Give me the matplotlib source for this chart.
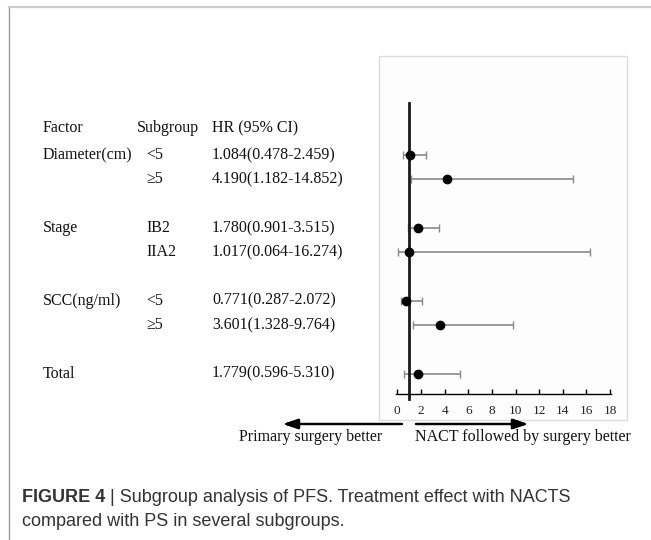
import numpy as np
import matplotlib
matplotlib.use("Agg")
import matplotlib.pyplot as plt
from matplotlib.patches import Rectangle
from matplotlib.lines import Line2D

# ---- data ----
factors = ["Diameter(cm)", "", "Stage", "", "SCC(ng/ml)", "", "Total"]
subgroups = ["<5", "\u22655", "IB2", "IIA2", "<5", "\u22655", ""]
hr = [1.084, 4.190, 1.780, 1.017, 0.771, 3.601, 1.779]
ci_low = [0.478, 1.182, 0.901, 0.064, 0.287, 1.328, 0.596]
ci_high = [2.459, 14.852, 3.515, 16.274, 2.072, 9.764, 5.310]
row_slot = [0, 1, 3, 4, 6, 7, 9]          # blank slots between groups
x_ticks = np.arange(0, 19, 2)

W, H = 651, 540
fig = plt.figure(figsize=(W / 100, H / 100), dpi=100)
fig.patch.set_facecolor("white")

serif = ["Liberation Serif", "DejaVu Serif"]


def fx(px):
    return px / W


def fy(py):
    return 1 - py / H


# page frame (left + top rules)
fig.add_artist(Line2D([fx(9), fx(9)], [fy(7), fy(540)], color="#9a9a9a", lw=1.0))
fig.add_artist(Line2D([fx(9), fx(651)], [fy(7), fy(7)], color="#cccccc", lw=1.6))

# light box around the plot (behind the axes)
box = Rectangle((fx(379), fy(420)), fx(627) - fx(379), fy(56) - fy(420),
                transform=fig.transFigure, facecolor="#fdfdfd",
                edgecolor="#dcdcdc", lw=1.0, zorder=-5)
fig.add_artist(box)

# forest plot axes
row0, step = 155.0, 24.3
ax_top, ax_bot = 103.0, 394.0
x0_px, unit = 397.3, 11.82
xmin, xmax = -0.1, 18.1
ax = fig.add_axes([fx(x0_px + xmin * unit), fy(ax_bot),
                   (xmax - xmin) * unit / W, (ax_bot - ax_top) / H])
ax.set_zorder(2)
ax.set_facecolor("none")
ax.set_xlim(xmin, xmax)
ax.set_ylim((ax_bot - row0) / step, (ax_top - row0) / step)
for s in ["top", "right", "left"]:
    ax.spines[s].set_visible(False)
ax.spines["bottom"].set_linewidth(1.0)
ax.set_yticks([])
ax.set_xticks(x_ticks)
ax.tick_params(axis="x", direction="in", length=3.5, width=1.0, pad=8,
               labelsize=9.5, labelcolor="#222222")
for lab in ax.get_xticklabels():
    lab.set_family(serif)

ax.errorbar(hr, row_slot, xerr=[np.subtract(hr, ci_low), np.subtract(ci_high, hr)],
            fmt="none", ecolor="#8a8a8a", elinewidth=1.2, capsize=3.2, capthick=1.0,
            zorder=2)
ax.plot([1, 1], [(ax_top - row0) / step, (399 - row0) / step], color="#1a1a1a",
        lw=2.0, clip_on=False, zorder=3)
ax.plot(hr, row_slot, "o", color="black", ms=6, zorder=4, clip_on=False)

# table
fs = 11.5
col_x = [43, 137, 212]
hdr_y = row0 - 27
for txt, cx in zip(["Factor", "Subgroup", "HR (95% CI)"], col_x):
    fig.text(fx(cx), fy(hdr_y), txt, family=serif, fontsize=fs, va="center",
             color="#111111")
for f, sg, h, lo, hi, sl in zip(factors, subgroups, hr, ci_low, ci_high, row_slot):
    ypx = row0 + sl * step
    fig.text(fx(col_x[0]), fy(ypx), f, family=serif, fontsize=fs, va="center",
             color="#111111")
    fig.text(fx(col_x[1] + 9), fy(ypx), sg, family=serif, fontsize=fs, va="center",
             color="#111111")
    fig.text(fx(col_x[2]), fy(ypx), f"{h:.3f}({lo:.3f}-{hi:.3f})", family=serif,
             fontsize=fs, va="center", color="#111111")

# direction arrows
arrow_kw = dict(arrowstyle="-|>,head_length=0.9,head_width=0.3", color="black", lw=1.6,
                shrinkA=0, shrinkB=0)
fig.add_artist(plt.annotate("", xy=(283, H - 424), xytext=(402, H - 424),
                            xycoords="figure pixels", arrowprops=arrow_kw))
fig.add_artist(plt.annotate("", xy=(528, H - 424), xytext=(416, H - 424),
                            xycoords="figure pixels", arrowprops=arrow_kw))
fig.text(fx(311), fy(437), "Primary surgery better", family=serif, fontsize=fs,
         ha="center", va="center", color="#111111")
fig.text(fx(415), fy(437), "NACT followed by surgery better", family=serif, fontsize=fs,
         ha="left", va="center", color="#111111")

# caption
cap_fs = 13.0
sans = ["Liberation Sans", "DejaVu Sans"]
renderer = fig.canvas.get_renderer()
t1 = fig.text(fx(22), fy(498), "FIGURE 4", family=sans, weight="bold", fontsize=cap_fs,
              va="center", color="#333333")
w1 = t1.get_window_extent(renderer).width
fig.text(fx(22 + w1), fy(498), " | Subgroup analysis of PFS. Treatment effect with NACTS",
         family=sans, fontsize=cap_fs, va="center", color="#333333")
fig.text(fx(22), fy(521), "compared with PS in several subgroups.", family=sans,
         fontsize=cap_fs, va="center", color="#333333")

fig.savefig("out.png", dpi=100)
